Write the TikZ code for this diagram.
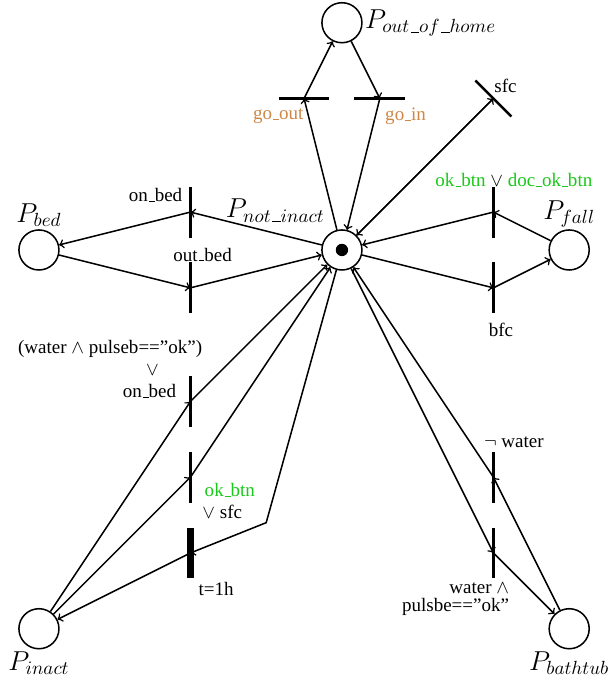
\documentclass[tikz,border=0pt]{standalone}
\usepackage{fontspec}
\setmainfont{Liberation Serif}
\usetikzlibrary{positioning}
\definecolor{guardgreen}{RGB}{25,200,25}
\definecolor{goorange}{RGB}{205,135,70}
\newcommand{\uscore}{\leavevmode\kern.06em\vbox{\hrule width.3em}}

\begin{document}
\begin{tikzpicture}[x=2.8cm,y=2.8cm]
      \useasboundingbox (-2.257,-2.845) rectangle (1.789,1.650);
      \tikzstyle{place} = [circle, draw, thick, minimum size=0.74cm, inner sep=0pt];
      \tikzstyle{trans} = [rectangle, fill=black, inner sep=0pt, minimum width=1.3pt, minimum height=0.94cm];
      \tikzstyle{timed} = [trans, minimum width=4pt];
      \tikzstyle{plabel} = [font=\Large, inner sep=1pt];
      \tikzstyle{guard} = [inner sep=0.5pt];
      \tikzstyle{arc} = [->, thick];
      % places
      \node (pni) [place] at (0,0) {};
      \node (tok) [circle, fill=black, inner sep=0pt, minimum size=6.5pt] at (pni) {};
      \node (pout) [place] at (0,1.5) {};
      \node (pbed) [place] at (-2,0) {};
      \node (pfall) [place] at (1.5,0) {};
      \node (pinact) [place] at (-2,-2.5) {};
      \node (pbath) [place] at (1.5,-2.5) {};
      \node (lpni) [plabel] at (-0.44,0.26) {$P_{not\uscore inact}$};
      \node (lpout) [plabel, right=0pt of pout] {$P_{out\uscore of\uscore home}$};
      \node (lpbed) [plabel, above=0pt of pbed] {$P_{bed}$};
      \node (lpfall) [plabel, above=0pt of pfall] {$P_{fall}$};
      \node (lpinact) [plabel, below=0pt of pinact] {$P_{inact}$};
      \node (lpbath) [plabel, below=0pt of pbath] {$P_{bathtub}$};
      % transitions
      \node (goout) [trans, rotate=90] at (-0.25,1) {};
      \node (goin) [trans, rotate=90] at (0.25,1) {};
      \node (sfc) [trans, rotate=45] at (1,1) {};
      \node (onbed) [trans] at (-1,0.25) {};
      \node (outbed) [trans] at (-1,-0.25) {};
      \node (okbtn) [trans] at (1,0.25) {};
      \node (bfc) [trans] at (1,-0.25) {};
      \node (wpb) [trans] at (-1,-1) {};
      \node (oksfc) [trans] at (-1,-1.5) {};
      \node (t1h) [timed] at (-1,-2) {};
      \node (nowater) [trans] at (1,-1.5) {};
      \node (wpe) [trans] at (1,-2) {};
      \coordinate (bend) at (-0.5,-1.8);
      % guards
      \node (lgoout) [guard, text=goorange] at (-0.42,0.88) {go\uscore out};
      \node (lgoin) [guard, text=goorange] at (0.42,0.88) {go\uscore in};
      \node (lsfc) [guard] at (1.08,1.08) {sfc};
      \node (lonbed) [guard] at (-1.23,0.36) {on\uscore bed};
      \node (loutbed) [guard] at (-0.92,-0.03) {out\uscore bed};
      \node (lokbtn) [guard] at (1.135,0.46) {\textcolor{guardgreen}{ok\uscore btn} $\vee$ \textcolor{guardgreen}{doc\uscore ok\uscore btn}};
      \node (lbfc) [guard] at (1.05,-0.53) {bfc};
      \node (lwpb) [guard] at (-1.53,-0.655) {(water $\wedge$ pulseb==”ok”)};
      \node (lor) [guard] at (-1.25,-0.795) {$\vee$};
      \node (lonbed2) [guard] at (-1.27,-0.93) {on\uscore bed};
      \node (lok) [guard, text=guardgreen] at (-0.74,-1.585) {ok\uscore btn};
      \node (lorsfc) [guard] at (-0.79,-1.73) {$\vee$ sfc};
      \node (lt1h) [guard] at (-0.83,-2.24) {t=1h};
      \node (lnowater) [guard] at (1.135,-1.27) {$\neg$ water};
      \node (lwpe1) [guard, anchor=east] at (1.112,-2.235) {water $\wedge$};
      \node (lwpe2) [guard, anchor=east] at (1.112,-2.355) {pulsbe==”ok”};
      % arcs
      \draw[arc] (pni) -- (goout.center);
      \draw[arc] (goout.center) -- (pout);
      \draw[arc] (pout) -- (goin.center);
      \draw[arc] (goin.center) -- (pni);
      \draw[arc] (pni) -- (sfc.center);
      \draw[arc] (sfc.center) -- (pni);
      \draw[arc] (pni) -- (onbed.center);
      \draw[arc] (onbed.center) -- (pbed);
      \draw[arc] (pbed) -- (outbed.center);
      \draw[arc] (outbed.center) -- (pni);
      \draw[arc] (pfall) -- (okbtn.center);
      \draw[arc] (okbtn.center) -- (pni);
      \draw[arc] (pni) -- (bfc.center);
      \draw[arc] (bfc.center) -- (pfall);
      \draw[arc] (pinact) -- (wpb.center);
      \draw[arc] (wpb.center) -- (pni);
      \draw[arc] (pinact) -- (oksfc.center);
      \draw[arc] (oksfc.center) -- (pni);
      \draw[arc] (pni) -- (bend) -- (t1h.center);
      \draw[arc] (t1h.center) -- (pinact);
      \draw[arc] (pbath) -- (nowater.center);
      \draw[arc] (nowater.center) -- (pni);
      \draw[arc] (pni) -- (wpe.center);
      \draw[arc] (wpe.center) -- (pbath);
\end{tikzpicture}
\end{document}
